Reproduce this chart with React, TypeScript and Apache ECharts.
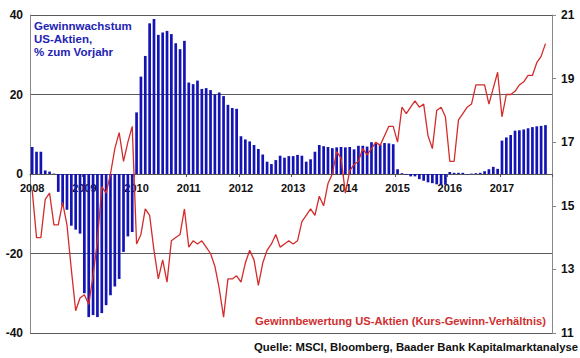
import React, { useEffect, useRef } from "react";
import * as echarts from "echarts";

// ---- data ----
const years = [2008, 2009, 2010, 2011, 2012, 2013, 2014, 2015, 2016, 2017];

// Gewinnwachstum US-Aktien, % zum Vorjahr (monthly)
const growth2008 = [6.8, 5.6, 5.6, 0.9, 0.6, 0.1, -4.5, -8.0, -9.0, -13.0, -14.0, -15.0];
const growth2009 = [-30.0, -36.0, -35.5, -36.0, -35.0, -33.0, -30.5, -28.3, -26.4, -19.6, -15.7, -14.6];
const growth2010 = [15.5, 24.5, 29.7, 37.9, 39.0, 35.0, 35.6, 36.0, 35.2, 32.9, 31.4, 33.5];
const growth2011 = [23.0, 22.6, 23.5, 21.4, 21.6, 21.1, 20.0, 20.5, 19.6, 17.4, 16.6, 16.4];
const growth2012 = [9.5, 8.7, 8.2, 7.3, 6.3, 4.9, 3.1, 2.5, 3.5, 4.6, 4.1, 4.5];
const growth2013 = [4.5, 4.8, 4.6, 3.1, 3.7, 5.6, 7.3, 7.0, 6.8, 6.5, 6.7, 6.8];
const growth2014 = [6.7, 6.8, 6.2, 7.1, 7.1, 6.9, 8.0, 7.6, 7.4, 7.8, 7.7, 7.5];
const growth2015 = [1.2, 0.2, -0.2, -0.6, -0.6, -1.3, -1.7, -2.1, -2.3, -2.6, -2.7, -2.7];
const growth2016 = [0.5, 0.3, 0.3, 0.3, -0.1, 0.1, 0.2, 0.3, 0.7, 1.2, 1.8, 1.3];
const growth2017 = [8.4, 9.2, 9.8, 10.9, 11.0, 11.2, 11.5, 11.8, 12.0, 12.1, 12.3, null];

// Gewinnbewertung US-Aktien (KGV), monthly
const pe2008 = [15.5, 14.0, 14.0, 15.2, 15.4, 14.4, 14.4, 15.1, 14.4, 13.0, 11.7, 12.1];
const pe2009 = [12.2, 11.9, 12.8, 13.9, 15.6, 15.4, 16.0, 16.8, 17.3, 16.4, 17.0, 17.5];
const pe2010 = [13.8, 14.1, 14.9, 14.7, 13.6, 12.7, 13.3, 12.6, 13.9, 14.0, 14.1, 14.9];
const pe2011 = [13.7, 13.9, 13.8, 13.9, 13.7, 13.5, 13.1, 12.4, 11.5, 12.7, 12.7, 12.8];
const pe2012 = [12.6, 13.2, 13.6, 13.3, 12.5, 13.2, 13.6, 13.8, 14.1, 13.7, 13.8, 13.9];
const pe2013 = [13.8, 13.9, 14.5, 14.7, 14.9, 14.7, 15.3, 15.0, 15.7, 16.0, 16.7, 16.5];
const pe2014 = [15.4, 16.1, 16.3, 16.4, 16.8, 16.6, 16.8, 17.0, 16.9, 17.2, 17.5, 17.5];
const pe2015 = [17.0, 18.1, 17.9, 18.1, 18.3, 18.1, 18.2, 17.2, 16.8, 18.0, 18.1, 17.8];
const pe2016 = [16.4, 16.4, 17.7, 17.9, 18.1, 18.2, 18.8, 18.8, 18.8, 18.2, 18.7, 19.2];
const pe2017 = [17.8, 18.5, 18.5, 18.6, 18.8, 18.9, 19.1, 19.1, 19.5, 19.7, 20.1, null];

const leftTicks = [-40, -20, 0, 20, 40];
const rightTicks = [11, 13, 15, 17, 19, 21];

const growth = [
  ...growth2008, ...growth2009, ...growth2010, ...growth2011, ...growth2012,
  ...growth2013, ...growth2014, ...growth2015, ...growth2016, ...growth2017,
];
const pe = [
  ...pe2008, ...pe2009, ...pe2010, ...pe2011, ...pe2012,
  ...pe2013, ...pe2014, ...pe2015, ...pe2016, ...pe2017,
];

const categories: string[] = [];
years.forEach((y) => {
  for (let m = 1; m <= 12; m++) categories.push(`${y}-${m < 10 ? "0" + m : m}`);
});

const FF = "'Liberation Sans', Arial, sans-serif";
const fontStr = (size: number) => `bold ${size}px "Liberation Sans", Arial, sans-serif`;

// grid geometry
const GRID_TOP = 15;
const GRID_BOTTOM = 25;
const PLOT_H = 358 - GRID_TOP - GRID_BOTTOM;

export default function App() {
  const ref = useRef<HTMLDivElement>(null);
  useEffect(() => {
    if (!ref.current) return;
    const chart = echarts.init(ref.current, null, { renderer: "svg" });
    const lMin = leftTicks[0];
    const lMax = leftTicks[leftTicks.length - 1];
    // move the category axis (with its labels) up to the zero line of the left axis
    const zeroOffset = -PLOT_H * ((0 - lMin) / (lMax - lMin));
    chart.setOption({
      animation: false,
      backgroundColor: "#ffffff",
      grid: { left: 30, right: 28, top: GRID_TOP, bottom: GRID_BOTTOM, containLabel: false },
      xAxis: {
        type: "category",
        data: categories,
        boundaryGap: true,
        position: "bottom",
        offset: zeroOffset,
        axisLine: { onZero: false, lineStyle: { color: "#555", width: 1 } },
        axisTick: { show: true, interval: 11, length: 3, lineStyle: { color: "#555" } },
        axisLabel: {
          interval: 11,
          formatter: (v: string) => v.slice(0, 4),
          fontFamily: FF,
          fontWeight: "bold",
          fontSize: 11,
          color: "#111",
          margin: 8,
        },
        splitLine: { show: false },
      },
      yAxis: [
        {
          type: "value",
          min: lMin,
          max: lMax,
          interval: 20,
          position: "left",
          axisLine: { show: true, lineStyle: { color: "#888" } },
          axisTick: { show: false },
          axisLabel: { fontFamily: FF, fontWeight: "bold", fontSize: 12, color: "#111", margin: 7 },
          splitLine: { show: true, lineStyle: { color: "#5a5a5a", width: 1 } },
        },
        {
          type: "value",
          min: rightTicks[0],
          max: rightTicks[rightTicks.length - 1],
          interval: 2,
          position: "right",
          axisLine: { show: true, lineStyle: { color: "#888" } },
          axisTick: { show: true, length: 4, customValues: rightTicks, lineStyle: { color: "#888" } },
          axisLabel: {
            customValues: rightTicks,
            fontFamily: FF,
            fontWeight: "bold",
            fontSize: 12,
            color: "#111",
            margin: 9,
          },
          splitLine: { show: false },
        },
      ],
      series: [
        {
          type: "bar",
          data: growth,
          yAxisIndex: 0,
          barWidth: "62%",
          itemStyle: { color: "#1414b4" },
          z: 2,
        },
        {
          type: "line",
          data: pe,
          yAxisIndex: 1,
          symbol: "none",
          lineStyle: { color: "#d42b2b", width: 1.3 },
          z: 3,
        },
      ],
      graphic: [
        { type: "text", x: 34, y: 25.8, style: { text: "Gewinnwachstum", font: fontStr(11.5), fill: "#2323b4", verticalAlign: "middle", align: "left" } },
        { type: "text", x: 34, y: 39, style: { text: "US-Aktien,", font: fontStr(11.5), fill: "#2323b4", verticalAlign: "middle", align: "left" } },
        { type: "text", x: 34, y: 52.3, style: { text: "% zum Vorjahr", font: fontStr(11.5), fill: "#2323b4", verticalAlign: "middle", align: "left" } },
        { type: "text", x: 546, y: 321, style: { text: "Gewinnbewertung US-Aktien (Kurs-Gewinn-Verhältnis)", font: fontStr(11.2), fill: "#d03030", verticalAlign: "middle", align: "right" } },
        { type: "text", x: 578, y: 346.5, style: { text: "Quelle: MSCI, Bloomberg, Baader Bank Kapitalmarktanalyse", font: fontStr(11.3), fill: "#111", verticalAlign: "middle", align: "right" } },
      ],
    });
    return () => chart.dispose();
  }, []);
  return (
    <div
      ref={ref}
      style={{ position: "fixed", left: 0, top: 0, width: 580, height: 358, background: "#fff" }}
    />
  );
}
